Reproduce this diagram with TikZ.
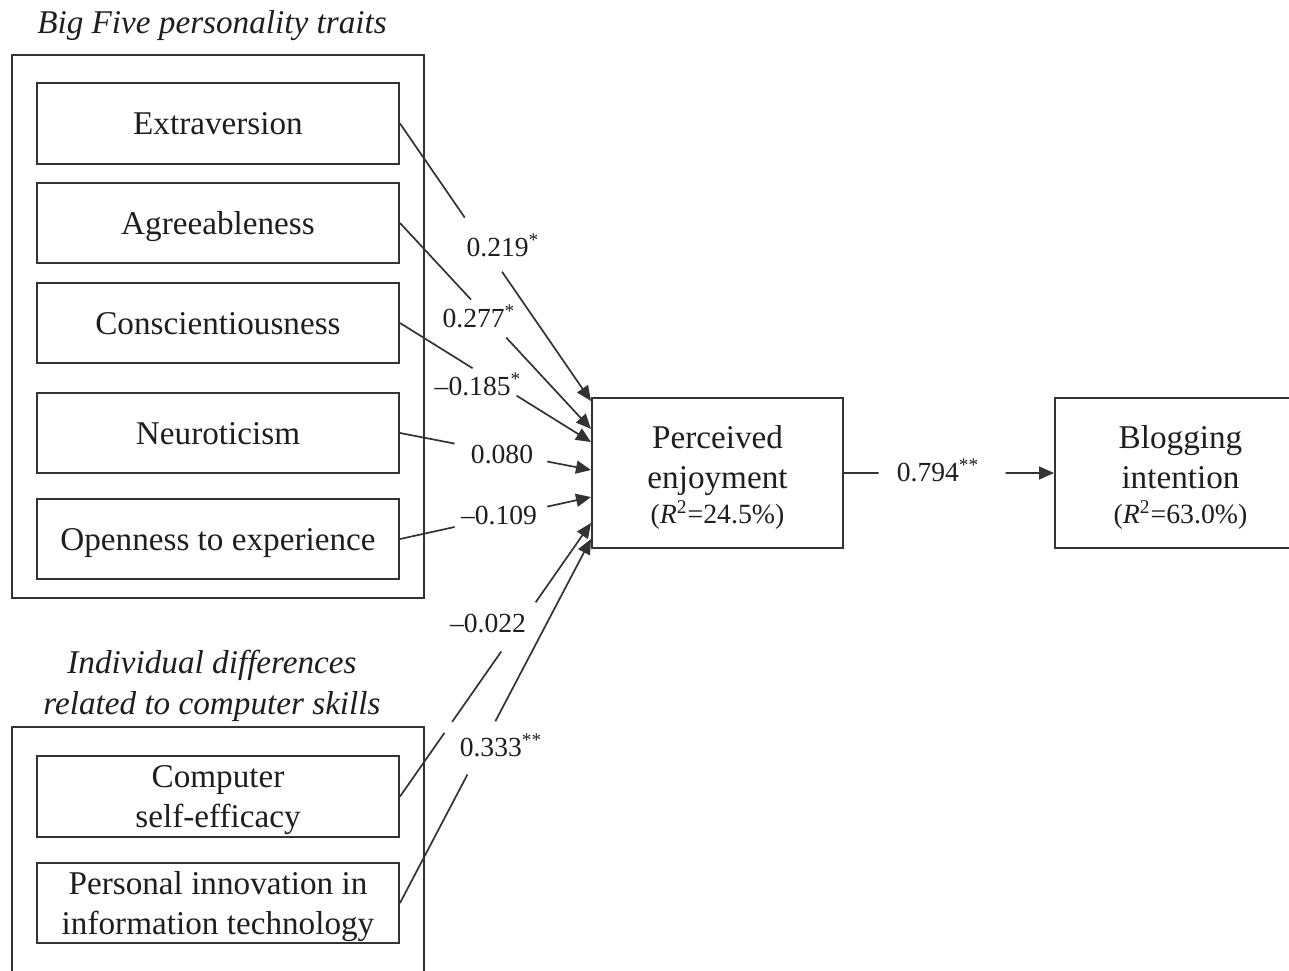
\documentclass[tikz,border=0pt]{standalone}
\usepackage{fontspec}
\setmainfont{Liberation Serif}
\usetikzlibrary{arrows.meta,calc}
\definecolor{ink}{HTML}{1E1E1E}
\definecolor{rule}{HTML}{333333}

% a path from #1 to #2 that is interrupted between fractions #3 and #4
\newcommand\splitlink[4]{%
  \draw[link] (#1) -- ($(#1)!#3!(#2)$);
  \draw[link,tip] ($(#1)!#4!(#2)$) -- (#2);}
% invisible strut that pushes the first line of a box down
\newcommand\topgap[1]{\rule{0pt}{#1}}

\begin{document}
\begin{tikzpicture}[x=0.5pt,y=-0.5pt,
  every node/.style={text=ink},
  trait/.style={draw=rule, line width=1pt, minimum width=181pt,
    minimum height=40pt, inner sep=0pt,
    font=\fontsize{16.6}{20}\selectfont, align=center},
  single/.style={text height=11pt, text depth=0pt},
  frame/.style={draw=rule, line width=1pt},
  hdr/.style={font=\fontsize{16.6}{20.5}\selectfont\itshape,
    align=center, inner sep=0pt},
  outcome/.style={draw=rule, line width=1pt, minimum width=125.5pt,
    minimum height=75pt, inner sep=0pt,
    font=\fontsize{16.6}{20}\selectfont, align=center},
  coef/.style={font=\fontsize{13.8}{16}\selectfont, inner sep=0pt,
    text height=0.68em, text depth=0pt, yshift=-1.5pt},
  link/.style={draw=rule, line width=0.85pt},
  tip/.style={-{Triangle[length=7.5pt,width=6.5pt]}},
]
\clip (0,0) rectangle (1289,970);

% personality group
\node[hdr] (hbig) at (212,26) {Big Five personality traits};
\draw[frame] (12,55) rectangle (424,598);
\node[trait, single, minimum height=40.5pt] (ext) at (218,123.5) {Extraversion};
\node[trait, single] (agr) at (218,223) {Agreeableness};
\node[trait, single] (con) at (218,323) {Conscientiousness};
\node[trait, single] (neu) at (218,433) {Neuroticism};
\node[trait, single] (opn) at (218,539) {Openness to experience};

% computer skills group
\node[hdr] (hind) at (212,685.5) {Individual differences\\related to computer skills};
\draw[frame] (12,990) -- (12,727) -- (424,727) -- (424,990);
\node[trait, minimum height=40.5pt] (cse) at (218,796.5)
  {\topgap{14.3pt}Computer\\self-efficacy};
\node[trait] (piit) at (218,903)
  {\topgap{15.4pt}Personal innovation in\\information technology};

% outcomes
\node[outcome] (pe) at (717.5,473)
  {\topgap{16.3pt}Perceived\\enjoyment\\[-2.5pt]{\fontsize{13.9}{16}\selectfont(\textit{R}\textsuperscript{2}=24.5\%)}};
\node[outcome] (bi) at (1180.5,473)
  {\topgap{16.3pt}Blogging\\intention\\[-2.5pt]{\fontsize{13.9}{16}\selectfont(\textit{R}\textsuperscript{2}=63.0\%)}};

% arrow tips on the left side of perceived enjoyment
\coordinate (t1) at ($(pe.north west)+(0,4)$);
\coordinate (t2) at ($(pe.north west)+(0,32)$);
\coordinate (t3) at ($(pe.north west)+(0,45)$);
\coordinate (t4) at ($(pe.north west)+(0,73)$);
\coordinate (t5) at ($(pe.north west)+(0,100)$);
\coordinate (t6) at ($(pe.north west)+(0,126)$);
\coordinate (t7) at ($(pe.north west)+(0,142)$);

% paths
\splitlink{ext.east}{t1}{0.339}{0.534}
\splitlink{agr.east}{t2}{0.372}{0.556}
\splitlink{con.east}{t3}{0.38}{0.61}
\splitlink{neu.east}{t4}{0.286}{0.771}
\splitlink{opn.east}{t5}{0.286}{0.771}
\draw[link] (cse.east) -- ($(cse.east)!0.233!(t6)$);
\draw[link] ($(cse.east)!0.273!(t6)$) -- ($(cse.east)!0.53!(t6)$);
\draw[link,tip] ($(cse.east)!0.71!(t6)$) -- (t6);
\splitlink{piit.east}{t7}{0.353}{0.499}
\splitlink{pe.east}{bi.west}{0.165}{0.769}

% path coefficients
\node[coef] (c1) at (503,247) {0.219\textsuperscript{*}};
\node[coef] (c2) at (479,318) {0.277\textsuperscript{*}};
\node[coef] (c3) at (478,386) {\textendash0.185\textsuperscript{*}};
\node[coef] (c4) at (502,454) {0.080};
\node[coef] (c5) at (499,515) {\textendash0.109};
\node[coef] (c6) at (488,623) {\textendash0.022};
\node[coef] (c7) at (501,747) {0.333\textsuperscript{**}};
\node[coef] (c8) at (938,472) {0.794\textsuperscript{**}};
\end{tikzpicture}
\end{document}
